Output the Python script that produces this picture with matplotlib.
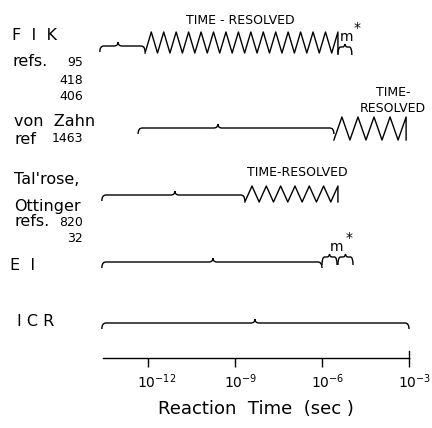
import matplotlib
matplotlib.use("Agg")
import matplotlib.pyplot as plt
import matplotlib.transforms as mtransforms
from matplotlib.path import Path
from matplotlib.patches import PathPatch

# ranges are log10(reaction time / s)
methods = ["FIK", "von Zahn", "Tal'rose", "EI", "ICR"]
brace_start = [-13.66, -12.34, -13.59, -13.59, -13.59]
brace_mid = [-13.03, -9.59, -11.07, -9.76, -8.31]
brace_end = [-12.10, -5.59, -8.66, -6.00, -3.00]
resolved_end = [-5.45, -3.10, -5.45, None, None]      # TIME-RESOLVED part
resolved_zigs = [16, 5, 7, 0, 0]
mstar_ranges = [[(-5.45, -4.97)], [], [], [(-6.00, -5.48), (-5.45, -4.93)], []]

tick_pos = [-12, -9, -6, -3]
tick_labels = ["$10^{-12}$", "$10^{-9}$", "$10^{-6}$", "$10^{-3}$"]

# row layout (pixel rows from top)
row_y = [46, 128, 195, 262, 323]
zig_top = [32, 117, 186, None, None]
zig_bot = [53, 140, 202, None, None]

LW = 1.0


def brace(ax, xa, xc, xb, y, d=6, c=4, r=0.14):
    verts = [(xa, y + d), (xa, y), (xa + r, y), (xc - r, y), (xc, y), (xc, y - c),
             (xc, y), (xc + r, y), (xb - r, y), (xb, y), (xb, y + d)]
    codes = [Path.MOVETO, Path.CURVE3, Path.CURVE3, Path.LINETO, Path.CURVE3, Path.CURVE3,
             Path.CURVE3, Path.CURVE3, Path.LINETO, Path.CURVE3, Path.CURVE3]
    ax.add_patch(PathPatch(Path(verts, codes), fill=False, lw=LW, color="black", clip_on=False))


def zigzag(ax, x0, x1, top, bot, n):
    p = (x1 - x0) / (n - 0.5)
    xs, ys = [], []
    for k in range(n):
        xs += [x0 + k * p, x0 + (k + 0.5) * p]
        ys += [bot, top]
    xs.append(x1)
    ys.append(bot)
    ax.plot(xs, ys, color="black", lw=LW, clip_on=False)


fig = plt.figure(figsize=(4.32, 4.28), dpi=100)
ax = fig.add_axes([103 / 432, 70 / 428, 306 / 432, 358 / 428])
ax.set_xlim(-13.55, -3.0)
ax.set_ylim(358, 0)
for s in ["top", "left", "right"]:
    ax.spines[s].set_visible(False)
ax.spines["bottom"].set_linewidth(LW)
ax.set_yticks([])
ax.set_xticks(tick_pos)
ax.set_xticklabels(tick_labels, fontsize=10, ha="left")
ax.tick_params(axis="x", direction="out", length=6.5, width=LW, pad=4)
shift = mtransforms.ScaledTranslation(-0.11, 0, fig.dpi_scale_trans)
for lab in ax.get_xticklabels():
    lab.set_transform(lab.get_transform() + shift)
ax.set_xlabel("Reaction  Time  (sec )", fontsize=13, labelpad=6)
# end mark of the axis pokes a little above the line
ax.plot([-3.0, -3.0], [358, 351], color="black", lw=LW, clip_on=False)

for i in range(len(methods)):
    y = row_y[i]
    brace(ax, brace_start[i], brace_mid[i], brace_end[i], y)
    if resolved_end[i] is not None:
        zigzag(ax, brace_end[i], resolved_end[i], zig_top[i], zig_bot[i], resolved_zigs[i])
    for (a, b) in mstar_ranges[i]:
        yy = y + 1 if i == 0 else y - 5
        brace(ax, a, (a + b) / 2, b, yy, d=8, c=3, r=0.09)

# annotations on the rows
tk = dict(fontsize=9, ha="center", va="center")
ax.text(-8.8, 20, "TIME - RESOLVED", **tk)
ax.text(-3.55, 93, "TIME-", **tk)
ax.text(-3.55, 108, "RESOLVED", **tk)
ax.text(-6.85, 173, "TIME-RESOLVED", **tk)
ax.text(-5.15, 37, "m", fontsize=10, ha="center", va="center")
ax.text(-4.78, 28, "*", fontsize=10, ha="center", va="center")
ax.text(-5.5, 247, "m", fontsize=10, ha="center", va="center")
ax.text(-5.08, 238, "*", fontsize=10, ha="center", va="center")

# left-hand labels: x in figure pixels, y in rows
lt = mtransforms.blended_transform_factory(fig.transFigure, ax.transData)
big = dict(fontsize=11.5, va="center", ha="left", transform=lt)
num = dict(fontsize=9, va="center", ha="right", transform=lt)
ax.text(12 / 432, 35, "F  I  K", **big)
ax.text(13 / 432, 62, "refs.", **big)
ax.text(83 / 432, 63, "95", **num)
ax.text(83 / 432, 81, "418", **num)
ax.text(83 / 432, 97, "406", **num)
ax.text(14 / 432, 122, "von  Zahn", **big)
ax.text(14 / 432, 139, "ref", **big)
ax.text(83 / 432, 139, "1463", **num)
ax.text(14 / 432, 179, "Tal'rose,", **big)
ax.text(14 / 432, 206, "Ottinger", **big)
ax.text(14 / 432, 222, "refs.", **big)
ax.text(83 / 432, 222, "820", **num)
ax.text(83 / 432, 238, "32", **num)
ax.text(10 / 432, 265, "E  I", **big)
ax.text(17 / 432, 322, "I C R", **big)

fig.savefig("out.png", dpi=100)
